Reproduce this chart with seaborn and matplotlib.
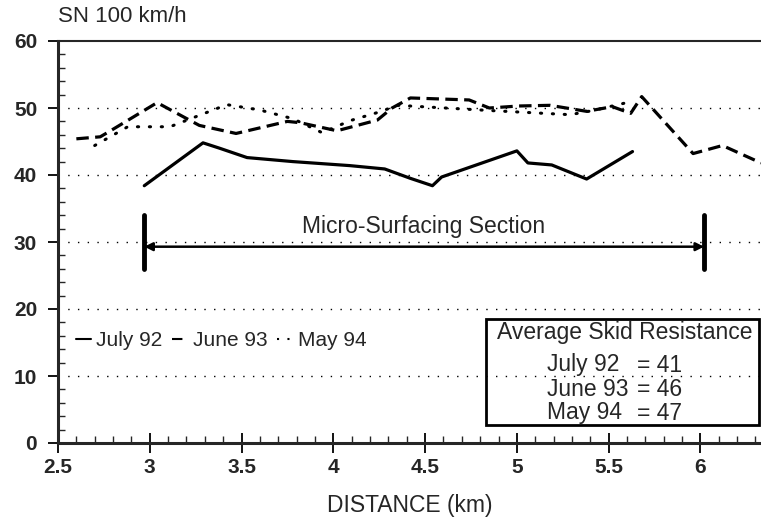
import matplotlib
matplotlib.use("Agg")
import matplotlib.pyplot as plt
from matplotlib.lines import Line2D
from matplotlib.ticker import MultipleLocator
import seaborn as sns
import pandas as pd

# Data
july92_x = [2.97, 3.29, 3.38, 3.53, 3.78, 4.09, 4.28, 4.42, 4.54, 4.59, 5.00, 5.06, 5.19, 5.38, 5.63]
july92_y = [38.4, 44.8, 44.0, 42.6, 42.0, 41.4, 40.9, 39.5, 38.4, 39.7, 43.6, 41.8, 41.5, 39.4, 43.5]

june93_x = [2.60, 2.73, 2.78, 3.04, 3.27, 3.47, 3.75, 3.82, 4.02, 4.24, 4.32, 4.42, 4.74, 4.85,
            5.01, 5.18, 5.38, 5.52, 5.62, 5.68, 5.96, 6.12, 6.33]
june93_y = [45.4, 45.7, 46.5, 50.8, 47.4, 46.2, 48.0, 47.8, 46.6, 48.2, 50.0, 51.5, 51.2, 50.0,
            50.3, 50.4, 49.5, 50.2, 49.2, 51.7, 43.2, 44.4, 41.8]

may94_x = [2.70, 2.88, 3.11, 3.42, 3.60, 3.78, 3.94, 4.09, 4.25, 4.35, 4.87, 5.29, 5.41, 5.63]
may94_y = [44.4, 47.2, 47.2, 50.5, 49.7, 48.4, 46.3, 48.1, 49.4, 50.4, 49.6, 49.0, 49.6, 51.0]

series_names = ['July 92', 'June 93', 'May 94']
avg_skid = [41, 46, 47]
section_start, section_end = 2.97, 6.02

sns.set_style("ticks")
plt.rcParams['font.family'] = ['Liberation Sans', 'DejaVu Sans']
FS = 16

fig = plt.figure(figsize=(7.61, 5.21), dpi=100)
ax = fig.add_axes([58 / 761, 1 - 443 / 521, 703 / 761, 402 / 521])

styles = {'July 92': dict(linestyle='-', linewidth=2.3),
          'June 93': dict(linestyle=(0, (3.9, 2.0)), linewidth=2.3),
          'May 94': dict(linestyle=(0, (0.4, 3.5)), linewidth=2.2, dash_capstyle='round')}

for name, xs, ys in zip(series_names, [july92_x, june93_x, may94_x], [july92_y, june93_y, may94_y]):
    df = pd.DataFrame({'x': xs, 'y': ys})
    sns.lineplot(data=df, x='x', y='y', ax=ax, color='black', sort=False, **styles[name])

ax.set_xlim(2.5, 6.33)
ax.set_ylim(0, 60)
ax.set_xticks([2.5, 3, 3.5, 4, 4.5, 5, 5.5, 6])
ax.set_xticklabels(['2.5', '3', '3.5', '4', '4.5', '5', '5.5', '6'])
ax.xaxis.set_minor_locator(MultipleLocator(0.1))
ax.yaxis.set_major_locator(MultipleLocator(10))
ax.yaxis.set_minor_locator(MultipleLocator(2))
ax.tick_params(axis='both', which='major', labelsize=15, width=1.3, color='black')
ax.tick_params(axis='x', which='major', direction='inout', length=14, pad=4)
ax.tick_params(axis='x', which='minor', direction='in', length=5, width=1)
ax.tick_params(axis='y', which='major', direction='out', length=7, pad=8)
ax.tick_params(axis='y', which='minor', direction='in', length=5, width=1)
for lbl in ax.get_xticklabels() + ax.get_yticklabels():
    lbl.set_fontweight('bold')

for y in [10, 20, 30, 40, 50]:
    ax.axhline(y, color='black', linestyle=(0, (1, 6)), linewidth=1)

ax.spines['left'].set_linewidth(2.2)
ax.spines['bottom'].set_linewidth(2.2)
ax.spines['top'].set_linewidth(1.5)
ax.spines['right'].set_visible(False)

ax.set_xlabel('DISTANCE (km)', fontsize=16.5, labelpad=12)
ax.set_ylabel('')
fig.text(58 / 761, 1 - 17 / 521, 'SN 100 km/h', fontsize=FS, ha='left', va='center')

# micro-surfacing section marker
ax.plot([section_start, section_start], [26, 34], color='black', linewidth=3.5)
ax.plot([section_end, section_end], [26, 34], color='black', linewidth=3.5)
ax.annotate('', xy=(section_start, 29.3), xytext=(section_end, 29.3),
            arrowprops=dict(arrowstyle='<|-|>', color='black', lw=1.8,
                            mutation_scale=12, shrinkA=0, shrinkB=0))
ax.text(4.49, 32.3, 'Micro-Surfacing Section', fontsize=16.5, ha='center', va='center')

handles = [Line2D([], [], color='black', lw=1.5, linestyle='-'),
           Line2D([], [], color='black', lw=1.5, linestyle=(0, (5, 20))),
           Line2D([], [], color='black', lw=1.5, linestyle=(0, (1, 4)))]
ax.legend(handles, series_names, loc='center left', bbox_to_anchor=(0.025, 0.254), ncol=3,
          frameon=False, fontsize=15, handlelength=0.75, handletextpad=0.25,
          columnspacing=0.45, borderaxespad=0, borderpad=0)

# average skid resistance box
fig.patches.append(plt.Rectangle((486 / 761, 1 - 425 / 521), 273 / 761, 106 / 521,
                                 transform=fig.transFigure, fill=False,
                                 edgecolor='black', linewidth=2))
fig.text(497 / 761, 1 - 333 / 521, 'Average Skid Resistance', fontsize=16.5, va='center')
for i, (name, v) in enumerate(zip(series_names, avg_skid)):
    yy = 1 - (365 + 24 * i) / 521
    fig.text(547 / 761, yy, name, fontsize=16.5, va='center')
    fig.text(637 / 761, yy, f'= {v}', fontsize=16.5, va='center')

fig.savefig('out.png', dpi=100)
